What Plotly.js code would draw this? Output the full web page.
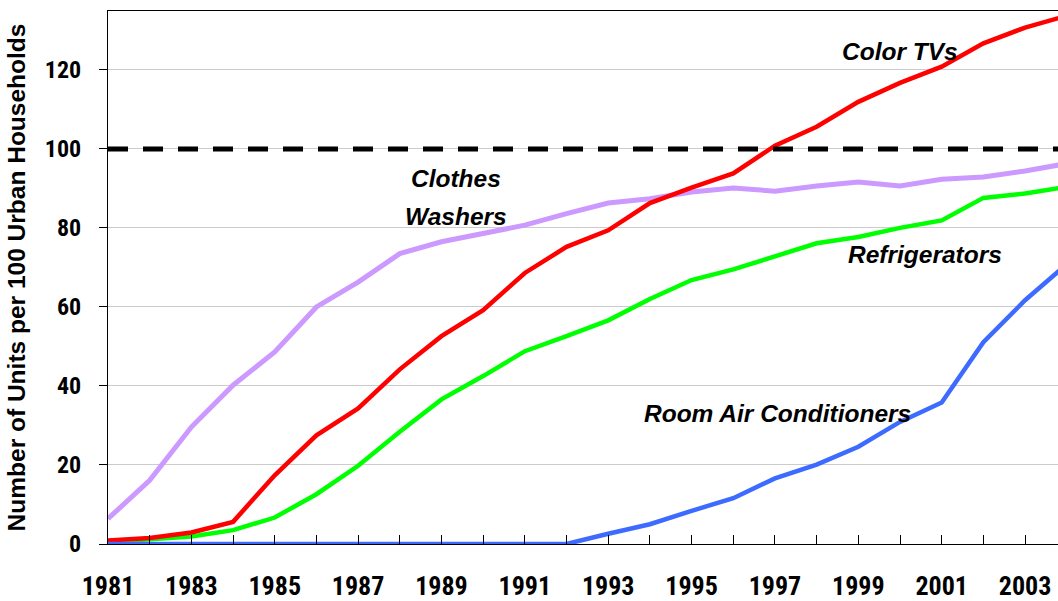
<!DOCTYPE html>
<html>
<head>
<meta charset="utf-8">
<script src="https://cdn.plot.ly/plotly-3.0.1.min.js"></script>
<style>
html,body{margin:0;padding:0;background:#fff;}
#chart{width:1058px;height:601px;}
</style>
</head>
<body>
<div id="chart"></div>
<script>
const years = [1981,1982,1983,1984,1985,1986,1987,1988,1989,1990,1991,1992,1993,1994,1995,1996,1997,1998,1999,2000,2001,2002,2003,2004];
const clothesWashers = [6.4,16.1,29.6,40.2,48.6,60.0,66.3,73.5,76.5,78.6,80.7,83.6,86.3,87.4,89.1,90.1,89.3,90.6,91.6,90.6,92.3,92.9,94.4,96.3];
const colorTVs = [0.9,1.5,2.9,5.6,17.4,27.5,34.3,44.2,52.6,59.2,68.6,75.2,79.4,86.3,90.2,93.8,100.8,105.6,111.9,116.7,120.8,126.7,130.7,133.7];
const refrigerators = [0.5,1.1,1.9,3.5,6.7,12.6,19.8,28.4,36.6,42.5,48.8,52.6,56.6,62.0,66.8,69.5,72.8,76.1,77.7,80.0,81.9,87.6,88.7,90.4];
const roomAirConditioners = [0,0,0,0,0,0,0,0,0,0,0,0,2.6,5.0,8.4,11.6,16.6,20.1,24.6,30.9,35.8,51.1,61.7,70.8];
const referenceLevel = 100;
const yTickVals = [0,20,40,60,80,100,120];
const xTickVals = [1981,1983,1985,1987,1989,1991,1993,1995,1997,1999,2001,2003];

const narrow = 'Liberation Sans Narrow, Arial Narrow, Roboto Condensed, Liberation Sans, Arial, sans-serif';
const sans = 'Liberation Sans, Arial, sans-serif';

function line(y, color, name, w) {
  return {x: years, y: y, type: 'scatter', mode: 'lines', name: name,
          line: {color: color, width: w || 4.5}, hoverinfo: 'skip'};
}

const data = [
  line(clothesWashers, '#CC99FF', 'Clothes Washers', 5),
  line(refrigerators, '#00FF00', 'Refrigerators'),
  line(colorTVs, '#FF0000', 'Color TVs'),
  line(roomAirConditioners, '#3D6BFF', 'Room Air Conditioners')
];

const annFont = {family: sans, size: 24.5, color: '#000'};
function lab(text, x, y) {
  return {text: '<b><i>' + text + '</i></b>', x: x, y: y, xref: 'x', yref: 'y',
          showarrow: false, font: annFont, xanchor: 'center', yanchor: 'middle'};
}

const layout = {
  width: 1058, height: 601,
  margin: {l: 108, r: 0, t: 11, b: 57},
  paper_bgcolor: '#fff', plot_bgcolor: '#fff',
  showlegend: false,
  xaxis: {
    range: [1981, 2003.79],
    tickmode: 'array', tickvals: xTickVals,
    ticks: 'inside', ticklen: 9, tickcolor: '#000', tickwidth: 1,
    minor: {dtick: 1, tick0: 1981, ticks: 'inside', ticklen: 9, tickcolor: '#000', showgrid: false},
    showgrid: false, zeroline: false,
    showline: true, linecolor: '#000', linewidth: 1, mirror: true,
    tickfont: {family: narrow, size: 26, color: '#000', weight: 'bold'},
    ticklabelstandoff: 19,
    ticklabeloverflow: 'allow'
  },
  yaxis: {
    range: [0, 134.9],
    tickmode: 'array', tickvals: yTickVals,
    ticks: 'outside', ticklen: 8, tickcolor: '#000', tickwidth: 1,
    showgrid: true, gridcolor: '#cccccc', gridwidth: 1,
    zeroline: false,
    showline: true, linecolor: '#000', linewidth: 1, mirror: true,
    tickfont: {family: narrow, size: 24, color: '#000', weight: 'bold'},
    ticklabelstandoff: 13,
    title: {text: '<b>Number of Units per 100 Urban Households</b>',
            font: {family: sans, size: 24.5, color: '#000'}, standoff: 12}
  },
  shapes: [{
    type: 'line', xref: 'paper', x0: 0, x1: 1, yref: 'y', y0: referenceLevel, y1: referenceLevel,
    line: {color: '#000', width: 5, dash: '20px,15px'}, layer: 'above'
  }],
  annotations: [
    lab('Color TVs', 2000.0, 124.7),
    lab('Clothes', 1989.36, 92.4),
    lab('Washers', 1989.36, 83.0),
    lab('Refrigerators', 2000.6, 73.3),
    lab('Room Air Conditioners', 1997.05, 33.0)
  ]
};

Plotly.newPlot('chart', data, layout, {displayModeBar: false, staticPlot: true});
</script>
</body>
</html>
